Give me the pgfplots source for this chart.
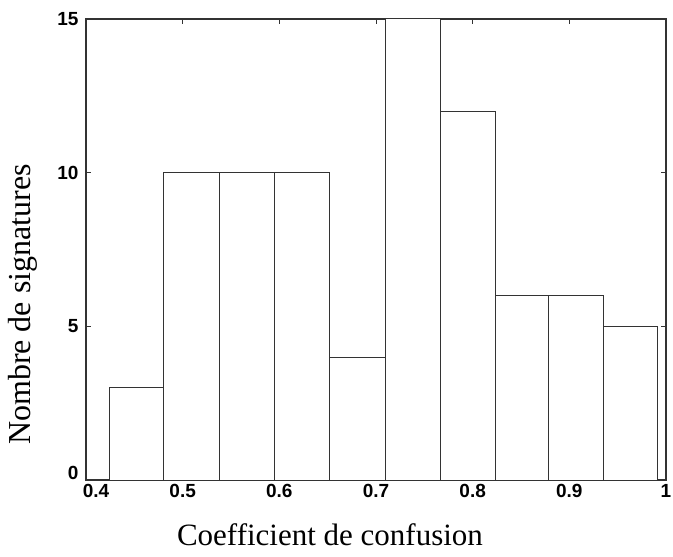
\documentclass[border=0pt]{standalone}
\usepackage{pgfplots}
\pgfplotsset{compat=1.18}
\usepackage{fontspec}
\setmainfont{Liberation Serif}
\newfontfamily\tickfont{Liberation Sans}

\pgfplotstableread{
x y
0.4248 3
0.4800 10
0.5384 10
0.5952 10
0.6520 4
0.7100 15
0.7667 12
0.8236 6
0.8780 6
0.9350 5
0.9910 5
}\hist

\begin{document}
\begin{tikzpicture}
\begin{axis}[
    scale only axis,
    width=580pt, height=461pt,
    xmin=0.4, xmax=1, ymin=0, ymax=15,
    xtick={0.4,0.5,...,1.0},
    xticklabels={{\hspace{20pt}0.4},0.5,0.6,0.7,0.8,0.9,1},
    ytick={0,5,10,15},
    yticklabels={{\raisebox{7pt}[\height][\depth]{0}},5,10,15},
    tick align=inside,
    major tick length=5pt,
    axis line style={line width=1.1pt, black!80},
    tick style={line width=0.9pt, black!80},
    /pgf/number format/assume math mode=true,
    tick label style={font=\tickfont\bfseries\fontsize{19}{19}\selectfont},
    yticklabel style={xshift=-4pt},
    xticklabel style={yshift=-1pt},
    xlabel={Coefficient de confusion},
    ylabel={Nombre de signatures},
    xlabel style={font=\fontsize{31}{31}\selectfont,
      at={(axis description cs:0.5,0)}, anchor=center,
      xshift=-46pt, yshift=-55pt},
    ylabel style={font=\fontsize{32}{32}\selectfont,
      at={(axis description cs:0,0.5)}, anchor=center,
      xshift=-55pt, yshift=63pt},
  ]
  \addplot[ybar interval, fill=white, draw=black!80, line width=1pt]
    table[x=x, y=y] {\hist};
\end{axis}
\pgfresetboundingbox
\useasboundingbox ([shift={(-86pt,-76pt)}]current axis.south west)
  rectangle ([shift={(7pt,19pt)}]current axis.north east);
\end{tikzpicture}
\end{document}
